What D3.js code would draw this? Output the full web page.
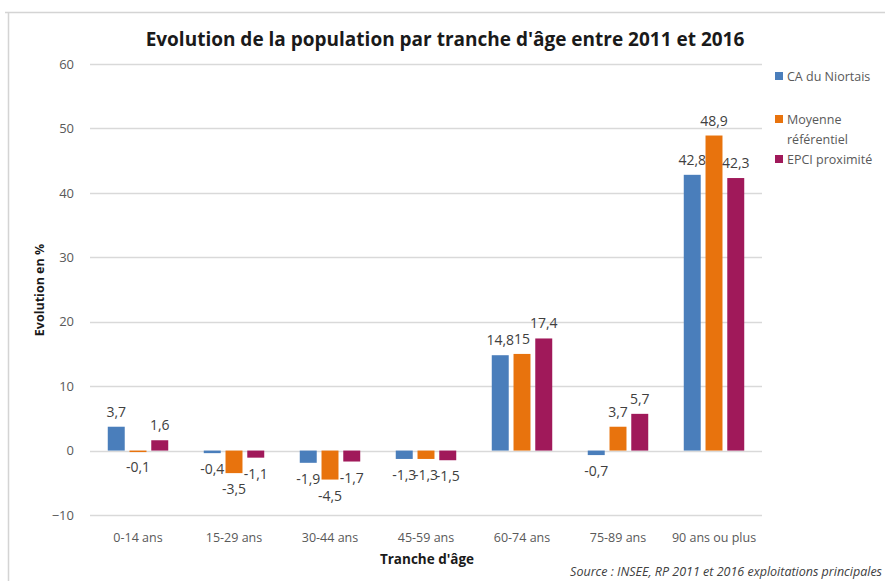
<!DOCTYPE html>
<html>
<head>
<meta charset="utf-8">
<script src="https://cdn.jsdelivr.net/npm/d3@7"></script>
<style>
  body { margin: 0; background: #fff; }
  text { font-family: "Open Sans", "Noto Sans", sans-serif; }
</style>
</head>
<body>
<div id="chart"></div>
<script>
// categories and series
var categories = ["0-14 ans", "15-29 ans", "30-44 ans", "45-59 ans", "60-74 ans", "75-89 ans", "90 ans ou plus"];
var seriesNames = ["CA du Niortais", "Moyenne référentiel", "EPCI proximité"];
var caNiortais = [3.7, -0.4, -1.9, -1.3, 14.8, -0.7, 42.8];
var moyenneRef = [-0.1, -3.5, -4.5, -1.3, 15, 3.7, 48.9];
var epciProx = [1.6, -1.1, -1.7, -1.5, 17.4, 5.7, 42.3];
var yTicks = [-10, 0, 10, 20, 30, 40, 50, 60];
var colors = ["#4a7ebb", "#e8730d", "#a0195a"];

var W = 885, H = 581;
var margin = { top: 64, right: 123, bottom: 66, left: 90 },
	width = W - margin.left - margin.right,
	height = H - margin.top - margin.bottom;

var svgRoot = d3.select("#chart")
	.append("svg")
	.attr("width", W)
	.attr("height", H);

// frame of the screenshot
svgRoot.append("line").attr("x1", 5).attr("x2", W).attr("y1", 12.5).attr("y2", 12.5)
	.attr("stroke", "#d4d4d4").attr("stroke-width", 1.5);
svgRoot.append("line").attr("x1", 8.5).attr("x2", 8.5).attr("y1", 12).attr("y2", H)
	.attr("stroke", "#d4d4d4").attr("stroke-width", 1.5);

var svg = svgRoot.append("g")
	.attr("transform", "translate(" + margin.left + "," + margin.top + ")");

var y = d3.scaleLinear().domain([-10, 60]).range([height, 0]);
var x = d3.scaleBand().domain(categories).range([0, width]).paddingInner(0.37).paddingOuter(0.185);
var xs = d3.scaleBand().domain(d3.range(3)).range([0, x.bandwidth()]).paddingInner(0.22);

// gridlines
svg.append("g")
	.selectAll("line")
	.data(yTicks)
	.join("line")
	.attr("x1", 0).attr("x2", width)
	.attr("y1", d => Math.round(y(d)) + 0.5).attr("y2", d => Math.round(y(d)) + 0.5)
	.attr("stroke", "#d9d9d9").attr("stroke-width", 1.3);

// Y axis
var yAxis = svg.append("g")
	.call(d3.axisLeft(y).tickValues(yTicks).tickSize(0).tickPadding(16));
yAxis.select(".domain").remove();
yAxis.selectAll("text").attr("fill", "#595959").style("font-size", "13px");

// X axis
var xAxis = svg.append("g")
	.attr("transform", "translate(0," + (height + 10) + ")")
	.call(d3.axisBottom(x).tickSize(0).tickPadding(8));
xAxis.select(".domain").remove();
xAxis.selectAll("text").attr("fill", "#595959").style("font-size", "12.5px");

var fmt = v => String(v).replace(".", ",");
var allSeries = [caNiortais, moyenneRef, epciProx];

allSeries.forEach((vals, si) => {
	var g = svg.append("g");
	g.selectAll("rect")
		.data(vals)
		.join("rect")
		.attr("x", (d, i) => x(categories[i]) + xs(si))
		.attr("width", xs.bandwidth())
		.attr("y", d => y(Math.max(0, d)))
		.attr("height", d => Math.max(1.5, Math.abs(y(d) - y(0))))
		.attr("fill", colors[si]);
	g.selectAll("text")
		.data(vals)
		.join("text")
		.attr("x", (d, i) => x(categories[i]) + xs(si) + xs.bandwidth() / 2)
		.attr("y", d => d >= 0 ? y(d) - 10 : y(d) + 21)
		.attr("text-anchor", "middle")
		.attr("fill", "#404040")
		.style("font-size", "14px")
		.text(d => fmt(d));
});

// title
svgRoot.append("text")
	.attr("x", 445).attr("y", 46)
	.attr("text-anchor", "middle")
	.style("font-size", "19px").style("font-weight", "bold")
	.attr("fill", "#1a1a1a")
	.text("Evolution de la population par tranche d'âge entre 2011 et 2016");

// axis titles
svgRoot.append("text")
	.attr("transform", "translate(44,290) rotate(-90)")
	.attr("text-anchor", "middle")
	.style("font-size", "12.5px").style("font-weight", "bold")
	.attr("fill", "#1a1a1a")
	.text("Evolution en %");
svgRoot.append("text")
	.attr("x", 427).attr("y", 564)
	.attr("text-anchor", "middle")
	.style("font-size", "13.5px").style("font-weight", "bold")
	.attr("fill", "#1a1a1a")
	.text("Tranche d'âge");

// source
svgRoot.append("text")
	.attr("x", 882).attr("y", 576)
	.attr("text-anchor", "end")
	.style("font-size", "12.5px").style("font-style", "italic")
	.attr("fill", "#404040")
	.text("Source : INSEE, RP 2011 et 2016 exploitations principales");

// legend
var legendRows = [["CA du Niortais"], ["Moyenne", "référentiel"], ["EPCI proximité"]];
var legendY = [81, 124, 164];
var lg = svgRoot.append("g");
legendRows.forEach((lines, i) => {
	lg.append("rect").attr("x", 775).attr("y", legendY[i] - 9).attr("width", 8).attr("height", 8).attr("fill", colors[i]);
	lines.forEach((t, j) => {
		lg.append("text")
			.attr("x", 787).attr("y", legendY[i] + j * 20)
			.style("font-size", "12.5px").attr("fill", "#595959")
			.text(t);
	});
});
</script>
</body>
</html>
